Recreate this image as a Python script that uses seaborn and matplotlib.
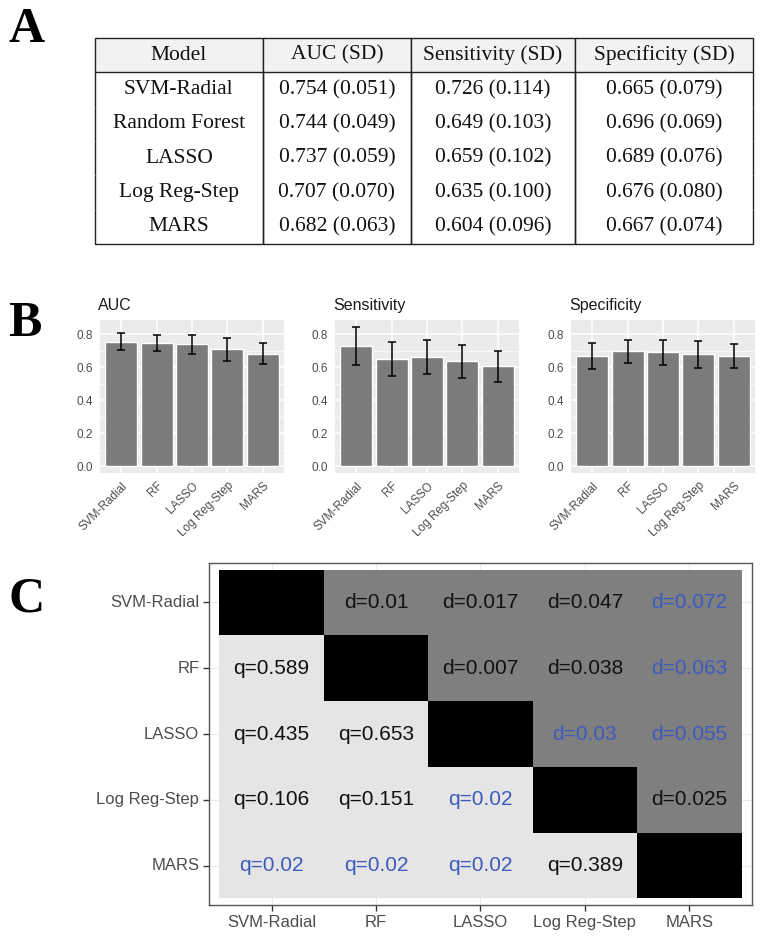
import numpy as np
import pandas as pd
import seaborn as sns
import matplotlib.pyplot as plt
from matplotlib.colors import ListedColormap

# MODELS
models = ['SVM-Radial', 'Random Forest', 'LASSO', 'Log Reg-Step', 'MARS']
short_names = ['SVM-Radial', 'RF', 'LASSO', 'Log Reg-Step', 'MARS']

# CROSS-VALIDATED PERFORMANCE (MEAN, SD)
auc_mean = [0.754, 0.744, 0.737, 0.707, 0.682]
auc_sd = [0.051, 0.049, 0.059, 0.070, 0.063]
sens_mean = [0.726, 0.649, 0.659, 0.635, 0.604]
sens_sd = [0.114, 0.103, 0.102, 0.100, 0.096]
spec_mean = [0.665, 0.696, 0.689, 0.676, 0.667]
spec_sd = [0.079, 0.069, 0.076, 0.080, 0.074]

# PAIRWISE COMPARISONS: d = AUC DIFFERENCE (UPPER), q = ADJUSTED P (LOWER)
d_upper = [[0.01, 0.017, 0.047, 0.072],
           [0.007, 0.038, 0.063],
           [0.03, 0.055],
           [0.025]]
q_lower = [[0.589],
           [0.435, 0.653],
           [0.106, 0.151, 0.02],
           [0.02, 0.02, 0.02, 0.389]]

sns.set_theme(style='white')
plt.rcParams['font.family'] = ['Liberation Sans', 'DejaVu Sans']

fig = plt.figure(figsize=(7.68, 9.44), dpi=100)

# PANEL LETTERS
for letter, y in [('A', 0.9555), ('B', 0.644), ('C', 0.352)]:
    fig.text(0.011, y, letter, fontsize=36, fontweight='bold', color='black',
             family=['Liberation Serif', 'DejaVu Serif'], va='baseline', ha='left')

# A: TABLE
ax_t = fig.add_axes([0.1237, 0.7415, 0.857, 0.2182])
ax_t.axis('off')
header = ['Model', 'AUC (SD)', 'Sensitivity (SD)', 'Specificity (SD)']
rows = [[m, f'{a:.3f} ({sa:.3f})', f'{b:.3f} ({sb:.3f})', f'{c:.3f} ({sc:.3f})']
        for m, a, sa, b, sb, c, sc in zip(models, auc_mean, auc_sd, sens_mean, sens_sd, spec_mean, spec_sd)]
tab = ax_t.table(cellText=rows, colLabels=header, cellLoc='center',
                 colWidths=[0.255, 0.225, 0.249, 0.271], bbox=[0, 0, 1, 1])
tab.auto_set_font_size(False)
tab.set_fontsize(15.5)
for (r, c), cell in tab.get_celld().items():
    cell.set_linewidth(1.0)
    cell.set_edgecolor('#222222')
    cell.get_text().set_fontfamily(['Liberation Serif', 'DejaVu Serif'])
    cell.get_text().set_color('#111111')
    if r == 0:
        cell.set_facecolor('#f2f2f2')
        cell.visible_edges = 'closed'
    elif r == len(rows):
        cell.visible_edges = 'LRB'
    else:
        cell.visible_edges = 'LR'

# B: BAR CHARTS
metrics = [('AUC', auc_mean, auc_sd), ('Sensitivity', sens_mean, sens_sd), ('Specificity', spec_mean, spec_sd)]
lefts = [0.1302, 0.4362, 0.7435]
for left, (name, mean, sd) in zip(lefts, metrics):
    ax = fig.add_axes([left, 0.499, 0.2396, 0.162])
    df = pd.DataFrame({'model': short_names, 'value': mean, 'sd': sd})
    ax.set_facecolor('#ebebeb')
    sns.barplot(data=df, x='model', y='value', color='#7b7b7b', width=0.9,
                saturation=1, ax=ax, zorder=2)
    ax.errorbar(x=np.arange(len(df)), y=df['value'], yerr=df['sd'], fmt='none',
                ecolor='black', elinewidth=1.1, capsize=3, capthick=1.1, zorder=3)
    ax.set_xlim(-0.6, len(df) - 0.4)
    ax.set_ylim(-0.042, 0.885)
    ax.set_yticks([0.0, 0.2, 0.4, 0.6, 0.8])
    ax.set_yticklabels([f'{v:.1f}' for v in [0.0, 0.2, 0.4, 0.6, 0.8]])
    ax.set_yticks([0.1, 0.3, 0.5, 0.7], minor=True)
    ax.grid(True, which='major', color='white', linewidth=1.1)
    ax.grid(True, which='minor', axis='y', color='white', linewidth=0.5)
    ax.set_axisbelow(True)
    for s in ax.spines.values():
        s.set_visible(False)
    ax.set_xlabel('')
    ax.set_ylabel('')
    ax.tick_params(axis='both', which='major', length=3, width=0.8, color='#333333',
                   labelcolor='#4d4d4d', labelsize=8.5, pad=2)
    ax.tick_params(axis='y', which='minor', length=0)
    plt.setp(ax.get_xticklabels(), rotation=45, ha='right', rotation_mode='anchor')
    ax.set_title(name, loc='left', fontsize=11.5, color='#1a1a1a', pad=7, x=-0.01)

# C: PAIRWISE MATRIX
n = len(short_names)
cell_type = np.zeros((n, n), dtype=int)
labels = np.full((n, n), '', dtype=object)
significant = np.zeros((n, n), dtype=bool)
for i in range(n):
    cell_type[i, i] = 2
for i, row in enumerate(d_upper):
    for k, v in enumerate(row):
        cell_type[i, i + 1 + k] = 1
        labels[i, i + 1 + k] = f'd={v:g}'
for i, row in enumerate(q_lower):
    for j, v in enumerate(row):
        labels[i + 1, j] = f'q={v:g}'
        significant[i + 1, j] = significant[j, i + 1] = v < 0.05

ax_c = fig.add_axes([0.2721, 0.0413, 0.707, 0.3623])
sns.heatmap(pd.DataFrame(cell_type, index=short_names, columns=short_names),
            cmap=ListedColormap(['#e5e5e5', '#7f7f7f', 'black']), vmin=-0.5, vmax=2.5,
            cbar=False, annot=labels, fmt='', annot_kws={'fontsize': 15}, ax=ax_c)
for k, t in enumerate(ax_c.texts):
    i, j = divmod(k, n)
    t.set_color('#3c5bbd' if significant[i, j] else '#111111')
ax_c.set_xlim(-0.1, n + 0.1)
ax_c.set_ylim(n + 0.1, -0.1)
ax_c.set_facecolor('white')
ax_c.grid(True, color='#ebebeb', linewidth=0.8)
ax_c.set_axisbelow(True)
for s in ax_c.spines.values():
    s.set_visible(True)
    s.set_color('#555555')
    s.set_linewidth(1.0)
ax_c.tick_params(axis='both', length=4, width=1, color='#333333', labelcolor='#4d4d4d',
                 labelsize=12, pad=3, bottom=True, left=True)
plt.setp(ax_c.get_yticklabels(), rotation=0)
plt.setp(ax_c.get_xticklabels(), rotation=0)

fig.savefig('out.png', dpi=100)
